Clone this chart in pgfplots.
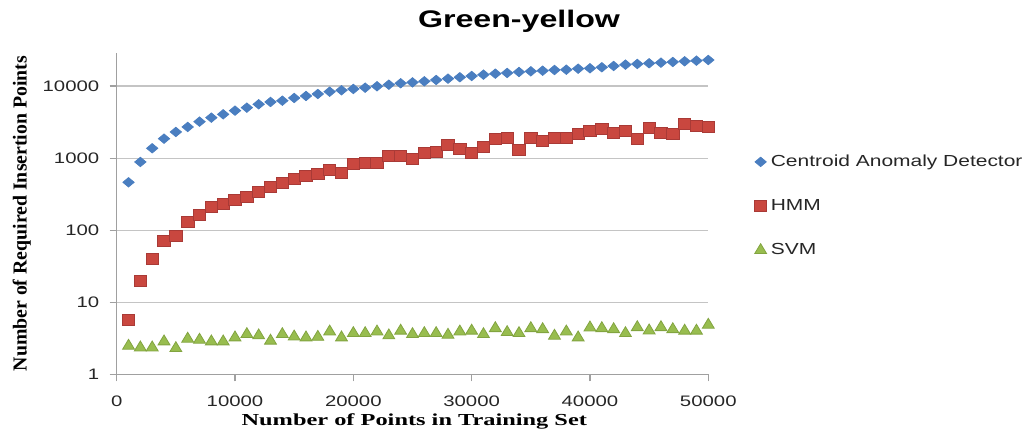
\documentclass[border=0pt]{standalone}
\usepackage{fontspec}
\usepackage{pgfplots}
\usepackage{pgfplotstable}
\pgfplotsset{compat=1.18}
\setmainfont{Liberation Sans}
\newfontfamily\tickfont[FakeStretch=1.34]{Liberation Sans}
\newfontfamily\legfont[FakeStretch=1.31]{Liberation Sans}
\newfontfamily\titlefont[FakeStretch=1.34]{Liberation Sans}
\newfontfamily\xlabfont[FakeStretch=1.45]{Liberation Serif}
\newfontfamily\ylabfont{Liberation Serif}
\definecolor{cblue}{HTML}{4A7EC0}
\definecolor{cred}{HTML}{C9473F}
\definecolor{credd}{HTML}{A93A36}
\definecolor{cgreen}{HTML}{98BD4F}
\definecolor{cgreend}{HTML}{82A440}
\definecolor{axisgray}{HTML}{A0A0A0}
\definecolor{gridgray}{HTML}{C4C4C4}

\pgfplotstableread{
x cad hmm svm
1000 463 5.7 2.49
2000 886 20 2.36
3000 1372 39.6 2.36
4000 1864 71 2.86
5000 2310 84 2.31
6000 2710 132 3.12
7000 3210 163 3.02
8000 3650 208 2.86
9000 4060 232 2.86
10000 4560 263 3.25
11000 5020 292 3.61
12000 5590 343 3.47
13000 6020 402 2.93
14000 6270 457 3.61
15000 6840 510 3.35
16000 7290 567 3.25
17000 7770 597 3.31
18000 8360 686 3.93
19000 8750 630 3.25
20000 9120 831 3.73
21000 9500 866 3.73
22000 9940 850 3.93
23000 10450 1073 3.47
24000 10940 1090 4.03
25000 11250 980 3.61
26000 11650 1168 3.73
27000 12150 1233 3.73
28000 12670 1525 3.54
29000 13250 1327 3.93
30000 13800 1168 4.03
31000 14400 1445 3.61
32000 14860 1830 4.37
33000 15200 1890 3.85
34000 15680 1300 3.73
35000 16030 1890 4.37
36000 16340 1733 4.23
37000 16710 1890 3.43
38000 16870 1926 3.93
39000 17420 2145 3.25
40000 17660 2410 4.47
41000 18230 2515 4.37
42000 19000 2260 4.23
43000 19820 2410 3.73
44000 20260 1846 4.51
45000 20710 2596 4.06
46000 21110 2215 4.51
47000 21590 2145 4.23
48000 22070 2980 4.03
49000 22500 2797 4.03
50000 23000 2680 4.87
}\datatable

\begin{document}
\begin{tikzpicture}
\useasboundingbox (-58.35pt,-28.25pt) rectangle (456.15pt,187.25pt);
\begin{axis}[
  at={(0pt,0pt)}, anchor=south west,
  scale only axis, width=295.8pt, height=160.9pt,
  xmin=0, xmax=50000, ymode=log, ymin=1, ymax=29040,
  axis lines=left, axis line style={-, draw=axisgray, line width=0.8pt},
  xtick={0,10000,20000,30000,40000,50000},
  xticklabels={0,10000,20000,30000,40000,50000},
  scaled x ticks=false,
  ytick={1,10,100,1000,10000},
  yticklabels={1,10,100,1000,10000},
  minor tick length=0pt,
  tick align=outside, major tick length=3.5pt,
  tick style={draw=axisgray, line width=0.6pt},
  ymajorgrids, major grid style={draw=gridgray, line width=0.6pt},
  ticklabel style={font=\tickfont\fontsize{7.6}{9}\selectfont, text=black!85, inner sep=0pt},
  xticklabel style={yshift=-7pt},
  yticklabel style={xshift=-5pt},
  title={Green-yellow},
  title style={font=\titlefont\bfseries\fontsize{12}{14}\selectfont, at={(axis description cs:0.68,1)}, anchor=base, yshift=6.35pt},
  xlabel={Number of Points in Training Set},
  xlabel style={font=\xlabfont\bfseries\fontsize{8.4}{10}\selectfont, at={(axis description cs:0.503,-0.1585)}, anchor=base},
  ylabel={Number of Required Insertion Points},
  ylabel style={font=\ylabfont\bfseries\fontsize{9.9}{11}\selectfont, at={(axis description cs:-0.1521,0.5)}, anchor=base, rotate=0},
  legend style={draw=none, fill=none, at={(axis description cs:1.0773,0.697)}, anchor=north west, font=\legfont\fontsize{8}{9.6}\selectfont, row sep=11pt, inner sep=0pt, text=black!85},
  legend cell align=left,
]
\addplot[only marks, mark=diamond*, mark size=2.35pt, mark options={xscale=1.6, fill=cblue, draw=cblue}] table[x=x,y=cad]{\datatable};
\addlegendentry{Centroid Anomaly Detector}
\addplot[only marks, mark=square*, mark size=2.75pt, mark options={xscale=1.13, fill=cred, draw=credd}] table[x=x,y=hmm]{\datatable};
\addlegendentry{HMM}
\addplot[only marks, mark=triangle*, mark size=3.3pt, mark options={xscale=1.04, fill=cgreen, draw=cgreend}] table[x=x,y=svm]{\datatable};
\addlegendentry{SVM}
\end{axis}
\end{tikzpicture}
\end{document}
